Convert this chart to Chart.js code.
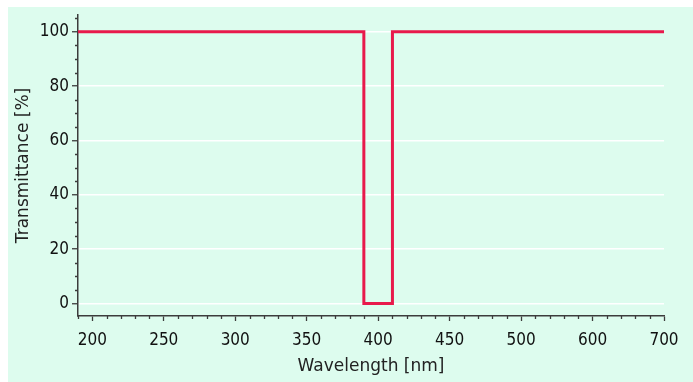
<!DOCTYPE html>
<html>
<head>
<meta charset="utf-8">
<script src="https://cdn.jsdelivr.net/npm/chart.js@4/dist/chart.umd.min.js"></script>
<style>
  html, body { margin: 0; padding: 0; background: #ffffff; }
  #wrap { width: 693px; height: 382px; position: relative; }
</style>
</head>
<body>
<div id="wrap"><canvas id="c" width="693" height="382"></canvas></div>
<script>
// ---- data ----
const wavelengths   = [190, 390, 390, 410, 410, 700];   // nm
const transmittance = [100, 100, 0,   0,   100, 100];   // %
const xTickLabels   = [200, 250, 300, 350, 400, 450, 500, 600, 700]; // equally spaced labels (broken axis)
const yTickLabels   = [0, 20, 40, 60, 80, 100];
const xMinorPerInterval = 5;
const yMinorStep = 5;
const xStart = 190, xEnd = 700;
const yMin = -4.6, yMax = 106.2;

// map wavelength onto the equally spaced label positions (index space)
function warp(v) {
  const t = xTickLabels;
  let i = 0;
  if (v <= t[0]) i = 0;
  else if (v >= t[t.length - 1]) i = t.length - 2;
  else { while (i < t.length - 2 && v > t[i + 1]) i++; }
  return i + (v - t[i]) / (t[i + 1] - t[i]);
}

const points = wavelengths.map((w, k) => ({ x: warp(w), y: transmittance[k] }));

const FONT_TICK = "'Liberation Sans Narrow', 'DejaVu Sans Condensed', 'Arial Narrow', sans-serif";
const FONT_TITLE = "'DejaVu Sans', 'Liberation Sans', sans-serif";
const AXIS = '#3c3c3c';
const GREEN = '#ddfcee';

const bgPlugin = {
  id: 'bg',
  beforeDraw(chart) {
    const c = chart.ctx;
    c.save();
    c.fillStyle = GREEN;
    c.fillRect(8, 7, chart.width - 8, chart.height - 7);
    c.restore();
  }
};

const minorTicks = {
  id: 'minorTicks',
  afterDraw(chart) {
    const c = chart.ctx;
    const xs = chart.scales.x, ys = chart.scales.y;
    c.save();
    c.strokeStyle = AXIS;
    c.lineWidth = 1.3;
    c.beginPath();
    xs.ticks.forEach(t => {
      if (Math.abs(t.value - Math.round(t.value)) < 1e-6) return;
      const px = Math.round(xs.getPixelForValue(t.value)) + 0.5;
      c.moveTo(px, xs.top);
      c.lineTo(px, xs.top + 3);
    });
    ys.ticks.forEach(t => {
      if (t.value % 20 === 0) return;
      const py = Math.round(ys.getPixelForValue(t.value)) + 0.5;
      c.moveTo(ys.right, py);
      c.lineTo(ys.right - 3, py);
    });
    c.stroke();
    c.restore();
  }
};

new Chart(document.getElementById('c'), {
  type: 'line',
  data: {
    datasets: [{
      data: points,
      borderColor: '#e8194b',
      borderWidth: 3,
      pointRadius: 0,
      fill: false,
      tension: 0,
      borderJoinStyle: 'miter',
      borderCapStyle: 'butt'
    }]
  },
  options: {
    responsive: false,
    animation: false,
    devicePixelRatio: 1,
    layout: { padding: { left: 0, top: 15, right: 29, bottom: 0 } },
    plugins: { legend: { display: false }, tooltip: { enabled: false } },
    scales: {
      x: {
        type: 'linear',
        min: warp(xStart),
        max: warp(xEnd),
        afterFit(s) { s.height = 66; },
        afterBuildTicks(s) {
          const arr = [];
          const n = xTickLabels.length - 1;
          const start = Math.round(warp(xStart) * xMinorPerInterval);
          for (let k = start; k <= n * xMinorPerInterval; k++) arr.push({ value: k / xMinorPerInterval });
          s.ticks = arr;
        },
        border: { display: true, color: AXIS, width: 1.5 },
        grid: {
          drawOnChartArea: false,
          drawTicks: true,
          tickLength: 5,
          tickWidth: 1.3,
          tickColor: (ctx) => {
            const v = ctx.tick ? ctx.tick.value : 0;
            return Math.abs(v - Math.round(v)) < 1e-6 ? AXIS : 'rgba(0,0,0,0)';
          }
        },
        ticks: {
          autoSkip: false,
          maxRotation: 0,
          padding: 9,
          color: '#111',
          font: { family: FONT_TICK, size: 17 },
          callback: (v) => {
            const r = Math.round(v);
            return Math.abs(v - r) < 1e-6 ? String(xTickLabels[r]) : '';
          }
        },
        title: {
          display: true,
          text: 'Wavelength [nm]',
          color: '#222',
          font: { family: FONT_TITLE, size: 17 },
          padding: { top: 0, bottom: 5 }
        }
      },
      y: {
        type: 'linear',
        min: yMin,
        max: yMax,
        afterFit(s) { s.width = 78; },
        afterBuildTicks(s) {
          const arr = [];
          for (let v = 0; v <= yTickLabels[yTickLabels.length - 1] + yMinorStep; v += yMinorStep) arr.push({ value: v });
          s.ticks = arr;
        },
        border: { display: true, color: AXIS, width: 1.5 },
        grid: {
          drawOnChartArea: true,
          drawTicks: true,
          tickLength: 6,
          lineWidth: 1.5,
          tickWidth: 1.3,
          color: (ctx) => (ctx.tick && yTickLabels.includes(ctx.tick.value)) ? '#ffffff' : 'rgba(0,0,0,0)',
          tickColor: (ctx) => (ctx.tick && yTickLabels.includes(ctx.tick.value)) ? AXIS : 'rgba(0,0,0,0)'
        },
        ticks: {
          autoSkip: false,
          padding: 3,
          color: '#111',
          font: { family: FONT_TICK, size: 17 },
          callback: (v) => yTickLabels.includes(v) ? String(v) : ''
        },
        title: {
          display: true,
          text: 'Transmittance [%]',
          color: '#222',
          font: { family: FONT_TITLE, size: 17 },
          padding: { top: 13, bottom: 0 }
        }
      }
    }
  },
  plugins: [bgPlugin, minorTicks]
});
</script>
</body>
</html>
